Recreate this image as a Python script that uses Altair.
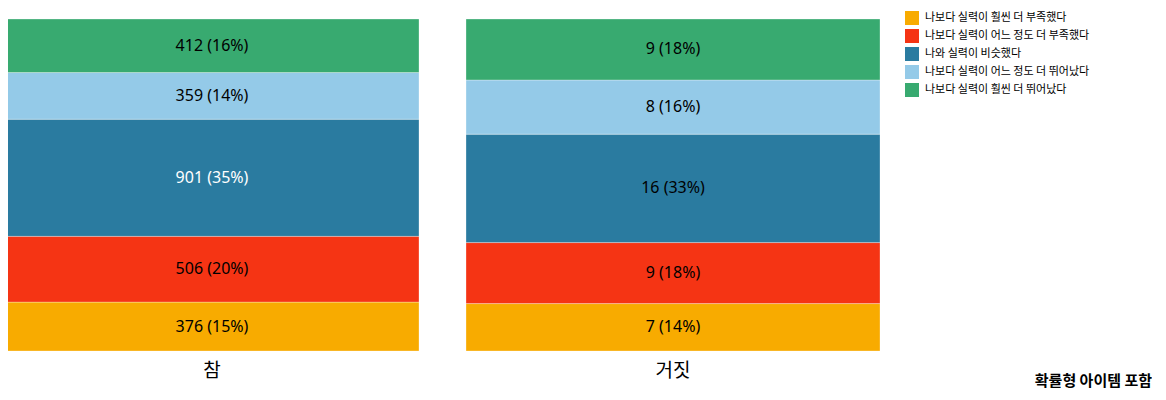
import altair as alt
import pandas as pd

categories = [
    "나보다 실력이 훨씬 더 부족했다",
    "나보다 실력이 어느 정도 더 부족했다",
    "나와 실력이 비슷했다",
    "나보다 실력이 어느 정도 더 뛰어났다",
    "나보다 실력이 훨씬 더 뛰어났다",
]
colors = ["#F8AB00", "#F53414", "#2A7BA0", "#94CAE8", "#38AA70"]
groups = ["참", "거짓"]
values_true = [376, 506, 901, 359, 412]
values_false = [7, 9, 16, 8, 9]

rows = []
for g, vals in zip(groups, [values_true, values_false]):
    for i, (c, v) in enumerate(zip(categories, vals)):
        rows.append({"group": g, "category": c, "count": v, "order": i})
df = pd.DataFrame(rows)

base = alt.Chart(df).transform_stack(
    stack="count",
    groupby=["group"],
    as_=["y0", "y1"],
    sort=[alt.SortField("order", order="ascending")],
    offset="normalize",
).transform_calculate(
    mid="(datum.y0 + datum.y1) / 2",
    label="datum.count + ' (' + format(datum.y1 - datum.y0, '.0%') + ')'",
)

xenc = alt.X("group:N", axis=None, scale=alt.Scale(paddingInner=0, paddingOuter=0))

bars = base.mark_bar(stroke="white", strokeWidth=1, strokeOpacity=0.3).encode(
    x=xenc,
    y=alt.Y("y0:Q", axis=None, scale=alt.Scale(domain=[0, 1])),
    y2="y1:Q",
    color=alt.Color(
        "category:N",
        scale=alt.Scale(domain=categories, range=colors),
        legend=alt.Legend(
            title=None,
            symbolType="square",
            symbolSize=196,
            symbolStrokeWidth=0,
            symbolOpacity=1,
            labelFontSize=11,
            labelFont="Noto Sans CJK KR",
            labelLimit=400,
            labelOffset=6,
            rowPadding=4,
            orient="none",
            legendX=900,
            legendY=-8,
        ),
    ),
)

texts = base.mark_text(fontSize=16, font="Noto Sans").encode(
    x=xenc,
    y=alt.Y("mid:Q", axis=None, scale=alt.Scale(domain=[0, 1])),
    text="label:N",
    color=alt.condition("datum.count > 800", alt.value("white"), alt.value("black")),
)

chart = (
    alt.layer(bars, texts, width=414, height=332)
    .facet(
        column=alt.Column(
            "group:N",
            sort=groups,
            header=alt.Header(
                title=None,
                labelOrient="bottom",
                labelFontSize=19,
                labelFont="Noto Sans CJK KR",
                labelPadding=10,
            ),
        ),
        spacing=45,
    )
    .resolve_scale(x="independent")
    .properties(
        title=alt.TitleParams(
            "확률형 아이템 포함",
            orient="bottom",
            anchor="end",
            fontSize=15,
            fontWeight="bold",
            font="Noto Sans CJK KR",
            dx=62,
            dy=-11,
        ),
        padding={"left": -4, "top": 3, "right": 0, "bottom": 0},
    )
    .configure_view(stroke=None)
)

chart.save("out.html", embed_options={"renderer": "svg", "actions": False})
